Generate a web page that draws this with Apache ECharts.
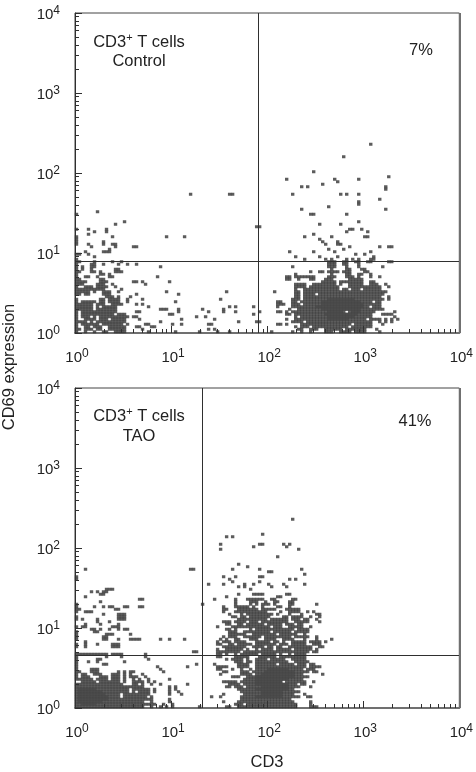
<!DOCTYPE html>
<html>
<head>
<meta charset="utf-8">
<title>CD3 / CD69</title>
<style>
  html, body { margin: 0; padding: 0; background: #fff; }
  #chart { width: 476px; height: 772px; }
</style>
<script src="https://cdn.jsdelivr.net/npm/echarts@6/dist/echarts.min.js"></script>
</head>
<body>
<div id="chart"></div>
<script>
// The plots are 128 x 128 channel histograms, 32 channels per decade.
// Each row: [CD69 channel, CD3 channel or [first, last] run, ...]
const controlRows = [
  [75,98], [70,89], [64,79], [62,104], [61,70,86,94], [60,87], [59,82], [58,75,77,103], [57,103],
  [55,38,[51,52],72,88,90,94], [53,101], [52,94], [51,94], [50,84], [49,75,103], [48,7], [47,0,78,79,90],
  [44,16,94], [43,13,81,88], [42,[60,61]], [41,0,4,10,91,92,95], [40,6,10,90,97], [39,4,79],
  [38,0,12,30,36,76,85,96,97], [37,0,81], [36,0,9,82,87], [35,0,4,9,[12,13],83,87,88], [34,5,13,[19,20],91,101,104,105],
  [33,11,84,89], [32,3,9,10,11,71,79,86,98], [31,0,1,4,93,96], [30,6,73,81,87,99],
  [29,0,76,83,85,90,92,94,98,99], [28,0,1,6,12,15,[84,86],[89,90],[93,94],97,98,104,105],
  [27,0,5,6,9,14,17,20,[84,86],89,90,94], [26,0,2,5,6,28,72,[84,86],90,94,102],
  [25,0,2,5,13,14,85,90,91,95,96], [24,0,1,5,6,8,[13,15],78,[81,82],[84,87],[89,91],[96,97]],
  [23,0,8,9,11,73,85,90,91,94,95,98], [22,0,3,4,7,11,12,27,[70,71],[73,74],[75,79],[84,86],[90,92],94,98,101],
  [21,0,1,8,9,[70,71],74,[78,79],[83,85],[91,93],94,95], [20,[0,3],[8,10],19,20,22,31,82,[83,86],[88,93],[94,95],98,99],
  [19,[0,2],[7,9],12,23,[73,76],[79,86],88,[91,95],[98,100],103], [18,0,[3,5],[7,10],13,[73,76],[78,87],[91,96],[97,101],104],
  [17,[0,9],15,73,[76,87],[89,90],[92,94],[96,101]], [16,[0,4],6,[9,11],14,30,50,66,73,74,[76,87],[88,94],[95,103]],
  [15,0,1,3,4,[9,11],20,34,73,74,[76,79],[81,93],[94,102]], [14,[10,12],14,18,[73,74],[76,101],104],
  [13,0,[8,9],[11,14],17,22,48,[72,74],[76,102],104], [12,0,[2,6],8,9,[11,14],17,33,[67,68],[72,73],[75,98],[100,101]],
  [11,[0,5],[7,9],[12,15],20,22,[67,69],[72,74],[76,101]], [10,[0,5],7,[9,13],24,51,53,59,67,[72,74],[75,97],[99,101]],
  [9,[0,5],[7,13],[28,30],34,42,49,71,[74,79],[80,102]], [8,0,[2,13],[20,21],34,44,49,53,61,[67,68],70,[72,89],[91,99],106],
  [7,0,[2,6],[7,12],[14,16],[31,32],59,70,71,[73,98],102,[103,105]], [6,0,[2,4],6,[8,17],[19,20],40,43,73,[75,98],106],
  [5,0,[3,6],[8,10],[12,16],21,35,46,70,[73,96],[98,101],103,105,107], [4,[0,3],5,[7,16],28,54,[60,61],[72,75],[77,98],101,103,105],
  [3,0,[2,7],[9,10],[11,15],17,[23,24],32,35,[44,45],[67,68],70,[75,91],[93,98],102],
  [2,0,[3,4],[6,8],[11,16],[20,21],[25,26],73,[75,77],[79,90],[92,98]], [1,0,1,[3,5],7,8,[11,16],22,44,46,[74,75],[78,80],[83,88],[90,96],100],
  [0,0,3,6,9,10,[13,16],24,33,41,47,51,65,72,75,78,[83,85],[88,91],[93,96],101]
];

// lighter-printing cells at the heart of the populations
const controlCore = [
  [13,[84,92]], [12,[82,94]], [11,[82,95]], [10,[80,95]], [9,[82,94]], [8,[84,88],[92,94]], [7,[83,93]], [6,[84,92]], [5,[84,90]]
];

const taoRows = [
  [75,72], [69,62], [68,50,52], [65,48,[61,62],69,71], [64,59,70], [63,48,74], [60,67],
  [57,54], [56,57], [55,3,[38,39],52,61,75], [54,[64,65]], [53,76], [52,0,49,53,[61,62]], [51,0,51,71,73],
  [50,52,61], [49,44,49,56,59,64,69,76], [48,54,56,65,70], [47,[10,12],58], [46,5,7,9,10],
  [45,8,9,54,[59,62],[70,71]], [44,3,50,[67,68]], [43,[21,22],46,53,[57,62],[65,66],[72,73]],
  [42,8,53,[58,60],63,[66,67],[71,72]], [41,0,42,53,58,60,[62,64],66,71,72,80],
  [40,0,6,9,[11,12],[16,17],[21,22],49,[53,57],59,62,[67,68],71], [39,0,1,[13,14],[49,50],[54,60],[62,66],[70,74]],
  [38,0,[3,5],49,[53,63],68,[71,74],77,79], [37,9,[14,16],51,55,[57,65],67,71,75,[80,81]],
  [36,0,[14,16],[52,53],[55,56],[58,64],[69,70],[72,75],78,81], [35,0,2,7,[14,16],[54,63],[65,70],[72,74],76,77,80],
  [34,7,11,[49,51],[53,56],[58,60],[62,70],[73,77],81], [33,3,8,14,[50,51],[54,55],[57,62],[64,68],[70,72],[74,75]],
  [32,0,2,3,[12,14],47,[52,58],[59,64],[66,68],[71,75],78], [31,5,6,8,11,14,[16,17],[50,51],53,58,[60,72],[74,77]],
  [30,0,6,7,[51,53],[56,58],[59,64],[66,71],[73,77]], [29,0,[10,12],18,[51,56],[59,66],[68,72],73,76],
  [28,0,[9,10],49,[51,53],[56,61],[63,64],[65,71],[73,77],80], [27,0,[9,10],14,[18,21],28,31,36,48,50,[53,54],[58,60],[63,66],[69,72],76,80,85],
  [26,3,47,[49,51],[53,56],[60,64],66,67,69,[72,76],[78,81],83], [25,0,3,7,[12,14],47,48,51,52,[54,58],[60,66],[68,70],[72,76],[79,81]],
  [24,0,3,[12,14],[49,53],[54,56],[59,62],64,65,67,68,[71,78],81,82],
  [23,47,[50,55],57,60,[62,65],[67,70],71,[73,78],80], [22,[39,40],[47,49],[50,54],[56,77],[79,80]],
  [21,[0,10],[12,15],23,47,48,50,53,[55,60],[62,66],68,71,[73,76]], [20,0,10,15,23,47,48,[53,57],[61,66],[68,76]],
  [19,0,[7,8],24,50,[52,55],57,[60,63],[65,69],[72,76]], [18,0,4,7,16,[53,55],[57,58],[60,70],[73,77]],
  [17,0,[9,10],40,46,[54,57],[60,66],[68,72],[74,76],78,79], [16,0,27,37,47,48,[49,50],[54,57],[60,76],[78,81]],
  [15,0,[5,7],28,47,48,52,55,58,[60,75],[77,79]], [14,0,1,[5,7],14,16,[18,19],29,49,50,[55,57],[59,77],79,80],
  [13,0,[2,3],[6,8],[12,14],16,18,22,48,[55,58],[60,75],82], [12,0,[2,4],[8,10],[12,14],16,[18,20],23,[52,54],[57,77]],
  [11,[0,5],[7,10],[12,14],16,19,21,24,31,[56,75]], [10,[2,6],[8,14],16,[19,22],24,26,[49,53],[55,68],[70,76],79],
  [9,[0,7],[8,15],[19,20],22,25,28,37,[51,54],[56,73],75,76], [8,[0,22],31,33,[50,51],[53,55],[57,74],78],
  [7,[0,17],[19,24],26,31,33,[54,72]], [6,[0,17],19,[21,24],26,31,34,[55,74]],
  [5,[0,14],[16,24],31,35,49,[56,72],76], [4,[0,14],[16,23],25,45,48,[55,74],[77,78]],
  [3,[0,24],25,31,[55,71]], [2,[0,22],25,31,49,[54,72],78],
  [1,[0,26],29,32,[53,55],[57,73],78], [0,[0,22],25,28,30,32,41,[50,51],[54,73],[78,80]]
];

const taoCore = [
  [15,[64,70]], [14,[63,72]], [13,[62,72]], [12,[60,72]], [11,[60,70]], [10,[60,68]], [9,[60,70]], [8,[62,70]], [7,[60,70]], [6,[62,68]], [5,[62,68]], [4,[60,68]],
  [7,[1,6]], [6,[1,8]], [5,[1,9]], [4,[1,10]], [3,[1,10]], [2,[1,8]], [1,[2,6]]
];

// gates, in axis units
const controlGate = { x: 80, y: 7.9 };
const taoGate = { x: 21, y: 4.6 };

const majorTicks = [1, 10, 100, 1000, 10000];
const minorTicks = [2, 3, 4, 5, 6, 7, 8, 9, 20, 30, 40, 50, 60, 70, 80, 90,
  200, 300, 400, 500, 600, 700, 800, 900, 2000, 3000, 4000, 5000, 6000, 7000, 8000, 9000];

const INK = '#2f2f2f';
const EDGE = '#707070';
const CELL = '#333333';
const CORE = '#484848';
const channelToValue = (c) => Math.pow(10, (c + 0.5) / 32);

// 把行数据展开成散点
function rowsToPoints(rows) {
  const points = [];
  rows.forEach((row) => {
    const y = channelToValue(row[0]);
    row.slice(1).forEach((item) => {
      const run = Array.isArray(item) ? item : [item, item];
      for (let c = run[0]; c <= run[1]; c++) points.push([channelToValue(c), y]);
    });
  });
  return points;
}

function tickLabel(margin, padding) {
  return {
    margin,
    padding,
    customValues: majorTicks,
    formatter: (v) => '{b|10}{s|' + Math.round(Math.log10(v)) + '}',
    rich: {
      b: { fontSize: 15, fontFamily: 'Liberation Sans', color: '#222', lineHeight: 20 },
      s: { fontSize: 12, fontFamily: 'Liberation Sans', color: '#222', verticalAlign: 'top', lineHeight: 20 }
    }
  };
}

function logAxis(gridIndex, position, isMinor) {
  const isX = position === 'bottom';
  return {
    type: 'log',
    logBase: 10,
    gridIndex,
    position,
    min: 1,
    max: 10000,
    axisLine: {
      show: !isMinor,
      onZero: false,
      lineStyle: isX ? { color: EDGE, width: 2 } : { color: INK, width: 1 }
    },
    axisTick: {
      show: true,
      inside: true,
      length: isMinor ? 4 : 7,
      customValues: isMinor ? minorTicks : majorTicks,
      lineStyle: { color: INK, width: 1 }
    },
    axisLabel: isMinor ? { show: false } : tickLabel(15, isX ? [0, 0, 0, 4] : [4, 0, 0, 0]),
    splitLine: { show: false },
    minorTick: { show: false },
    minorSplitLine: { show: false }
  };
}

function cellSeries(index, rows, color) {
  // axes 0/1 belong to panel 0, axes 2/3 to panel 1
  return {
    type: 'scatter',
    xAxisIndex: index * 2,
    yAxisIndex: index * 2,
    symbol: 'rect',
    symbolSize: [3.4, 3],
    silent: true,
    itemStyle: { color },
    data: rowsToPoints(rows),
    z: 2
  };
}

function panelSeries(index, rows, core, gate) {
  const main = cellSeries(index, rows, CELL);
  main.markLine = {
    silent: true,
    animation: false,
    symbol: 'none',
    label: { show: false },
    lineStyle: { color: INK, width: 1, type: 'solid' },
    data: [
      { xAxis: gate.x },
      { yAxis: gate.y },
      { xAxis: 10000, lineStyle: { color: EDGE, width: 2, type: 'solid' } }
    ]
  };
  return [main, cellSeries(index, core, CORE)];
}

function cornerText(x, y, style) {
  return { type: 'text', x, y, silent: true, style };
}

const gateTitle = {
  fontSize: 16.5,
  fontFamily: 'Liberation Sans',
  fill: '#222',
  align: 'center',
  verticalAlign: 'middle',
  lineHeight: 20,
  rich: {
    n: { fontSize: 16.5, fontFamily: 'Liberation Sans', fill: '#222', lineHeight: 20 },
    p: { fontSize: 11, fontFamily: 'Liberation Sans', fill: '#222', verticalAlign: 'top', lineHeight: 20 }
  }
};

const chart = echarts.init(document.getElementById('chart'), null, { renderer: 'canvas' });
chart.setOption({
  animation: false,
  backgroundColor: '#fff',
  grid: [
    { left: 75, top: 13, width: 385, height: 320, show: true, borderColor: '#444', borderWidth: 1, backgroundColor: 'transparent' },
    { left: 75, top: 388, width: 385, height: 320, show: true, borderColor: '#444', borderWidth: 1, backgroundColor: 'transparent' }
  ],
  xAxis: [
    logAxis(0, 'bottom', false), logAxis(0, 'bottom', true),
    logAxis(1, 'bottom', false), logAxis(1, 'bottom', true)
  ],
  yAxis: [
    logAxis(0, 'left', false), logAxis(0, 'left', true),
    logAxis(1, 'left', false), logAxis(1, 'left', true)
  ],
  series: [
    ...panelSeries(0, controlRows, controlCore, controlGate),
    ...panelSeries(1, taoRows, taoCore, taoGate)
  ],
  graphic: [
    cornerText(139, 42, { ...gateTitle, text: '{n|CD3}{p|+}{n| T cells}' }),
    cornerText(139, 61, { ...gateTitle, text: 'Control' }),
    cornerText(421, 50, { ...gateTitle, text: '7%' }),
    cornerText(139, 416, { ...gateTitle, text: '{n|CD3}{p|+}{n| T cells}' }),
    cornerText(139, 436, { ...gateTitle, text: 'TAO' }),
    cornerText(415, 421, { ...gateTitle, text: '41%' }),
    cornerText(267, 762, { ...gateTitle, text: 'CD3' }),
    { type: 'text', x: 9, y: 367, rotation: Math.PI / 2, silent: true, style: { ...gateTitle, text: 'CD69 expression' } }
  ]
});
</script>
</body>
</html>
